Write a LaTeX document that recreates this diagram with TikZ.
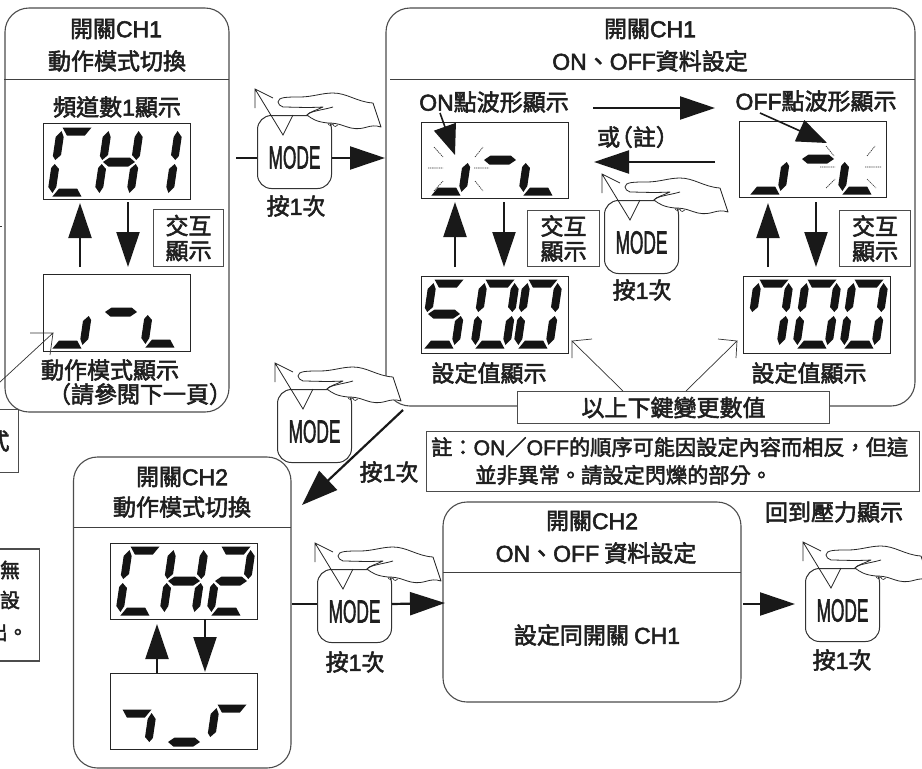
\documentclass[tikz,border=0pt]{standalone}
\usepackage{fontspec}
\setmainfont{Noto Sans CJK TC}[FakeBold=2.4]
\newfontfamily\latf{Liberation Sans}[FakeBold=2.4]
\newfontfamily\modef{Liberation Sans}[FakeBold=2.2]
\newcommand{\T}[1]{{\latf #1}}
\usetikzlibrary{arrows.meta}
\tikzset{
  x=1pt,y=-1pt,
  thinline/.style={line width=0.9pt,draw=black!75},
  panel/.style={line width=1.1pt,draw=black!70,fill=white,rounded corners=24pt},
  framebox/.style={line width=1.1pt,draw=black!70,fill=white},
  lcd/.style={line width=1.3pt,draw=black!85,fill=white},
  lbl/.style={inner sep=0pt,font=\fontsize{23}{23}\selectfont,text=black!88},
  note/.style={lbl,anchor=west,font=\fontsize{21.2}{21.2}\selectfont},
  bigarrow/.style={line width=2.2pt,black!90,-{Triangle[length=35pt,width=23pt]}},
  openarrow/.style={line width=0.7pt,black!80},
  flash/.style={line width=0.7pt,black!80,dash pattern=on 1.3pt off 0.8pt},
  btn/.style={line width=1pt,draw=black!80,fill=white,rounded corners=14pt},
}
% seven-segment pieces, in local coordinates
\newcommand{\sga}{\fill (-14.5,-34.5)--(14.5,-34.5)--(9,-26.5)--(-9,-26.5)--cycle;}
\newcommand{\sgd}{\fill (-14.5,34.5)--(14.5,34.5)--(9,26.5)--(-9,26.5)--cycle;}
\newcommand{\sgg}{\fill (-16,0)--(-10,-4.5)--(10,-4.5)--(16,0)--(10,4.5)--(-10,4.5)--cycle;}
\newcommand{\sgf}{\fill (-20,-25)--(-15,-31)--(-12,-25)--(-12,-7)--(-17,-2)--(-20,-6)--cycle;}
\newcommand{\sgb}{\fill (20,-25)--(15,-31)--(12,-25)--(12,-7)--(17,-2)--(20,-6)--cycle;}
\newcommand{\sge}{\fill (-20,25)--(-15,31)--(-12,25)--(-12,7)--(-17,2)--(-20,6)--cycle;}
\newcommand{\sgc}{\fill (20,25)--(15,31)--(12,25)--(12,7)--(17,2)--(20,6)--cycle;}
% \dgt{cx}{cy}{segments}
\newcommand{\dgt}[3]{\begin{scope}[cm={1,0,-0.147,-1,(#1,#2)},x=1pt,y=1pt,black!92]#3\end{scope}}
% \hand{name}{x}{y}: a MODE key at top-left (x,y) with the hand pressing it
\newcommand{\hand}[3]{%
  \node[btn,minimum width=74pt,minimum height=73pt,anchor=north west,inner sep=0pt] (#1) at (#2,#3) {};
  \node[inner sep=0pt,xscale=.54,transform shape,font=\modef\fontsize{32}{32}\selectfont,text=black!88] (#1t) at ([yshift=-5.5pt]#1.center) {MODE};
  \begin{scope}[shift={(#2,#3)}]
    \draw[line width=.8pt,black!85] (-2,-7)--(-2,-26)--(16,-17) (-2,-26)--(26,20)--(36,0);
    \draw[line width=.8pt,black!85,fill=white,line join=round]
      (21,-13) .. controls (21,-18) and (30,-18) .. (43,-18)
      .. controls (55,-18) and (65,-22) .. (76,-22)
      .. controls (90,-22) and (100,-13) .. (116,-12)
      -- (124,12)
      .. controls (112,8) and (108,16) .. (94,13)
      .. controls (86,11) and (82,8) .. (71,8)
      .. controls (60,7) and (55,4) .. (50,0)
      .. controls (52,-3) and (60,-5) .. (66,-8)
      .. controls (50,-7) and (35,-8) .. (26,-8)
      .. controls (23,-9) and (21,-11) .. (21,-13) -- cycle;
    \draw[line width=.8pt,black!85] (50,0) .. controls (53,-4) and (66,-5) .. (76,-8);
    \draw[line width=.6pt,black!85] (71,8) arc(180:20:2.5) (76,9) arc(180:20:2.5);
  \end{scope}}
\begin{document}
\begin{tikzpicture}
\useasboundingbox (0,0) rectangle (922,769);
\clip (0,0) rectangle (922,769);
\fill[white] (0,0) rectangle (922,769);

% clipped pieces at the left edge
\node[framebox,minimum width=40pt,minimum height=63pt,anchor=east,inner sep=0pt] (lefta) at (19,441) {};
\node[framebox,minimum width=60pt,minimum height=112pt,anchor=east,inner sep=0pt] (leftb) at (40,605) {};
\node[lbl] (t式) at (-2,441) {式};
\node[lbl,font=\fontsize{20}{20}\selectfont] (t無) at (10,570) {無};
\node[lbl,font=\fontsize{20}{20}\selectfont] (t設) at (10,600) {設};
\node[lbl,font=\fontsize{20}{20}\selectfont,anchor=east] (t出) at (28,632) {出。};
\coordinate (tk1) at (0,226); \coordinate (tk2) at (2,226);
\draw[line width=.8pt,black!80] (tk1)--(tk2);

% panels
\draw[panel] (5,8) rectangle (229,412);
\draw[panel] (386,8) rectangle (915,406);
\draw[panel] (73.5,457) rectangle (291,768);
\draw[panel] (443,502) rectangle (741,702);
\draw[thinline] (4,79)--(229,79) (390,79)--(915,79) (74,527)--(291,527) (443,572)--(741,572);

% titles
\node[lbl] (a1) at (116,29) {開關\T{CH1}};
\node[lbl] (a2) at (117,61) {動作模式切換};
\node[lbl] (a3) at (117,107) {頻道數\T{1}顯示};
\node[lbl] (a4) at (110,370) {動作模式顯示};
\node[lbl] (a5) at (140,394) {（請參閱下一頁）};
\node[lbl] (b1) at (650,29) {開關\T{CH1}};
\node[lbl] (b2) at (650,61) {\T{ON}、\T{OFF}資料設定};
\node[lbl] (b3) at (494,102) {\T{ON}點波形顯示};
\node[lbl] (b4) at (816,101) {\T{OFF}點波形顯示};
\node[lbl] (b5) at (638,137) {或\kern-.45em（註）};
\node[lbl] (b6) at (489,373) {設定值顯示};
\node[lbl] (b7) at (809,373) {設定值顯示};
\node[lbl] (c1) at (182,477) {開關\T{CH2}};
\node[lbl] (c2) at (182,507) {動作模式切換};
\node[lbl] (d1) at (592,521) {開關\T{CH2}};
\node[lbl] (d2) at (596,553) {\T{ON}、\T{OFF} 資料設定};
\node[lbl] (d3) at (597,635) {設定同開關 \T{CH1}};
\node[lbl] (d4) at (834,512) {回到壓力顯示};

% LCD frames
\node[lcd,minimum width=147pt,minimum height=76pt,anchor=north west,inner sep=0pt] (ch1) at (43,123) {};
\node[lcd,minimum width=147pt,minimum height=77pt,anchor=north west,inner sep=0pt] (mode1) at (43,274) {};
\node[lcd,minimum width=147pt,minimum height=76pt,anchor=north west,inner sep=0pt] (on) at (421,122) {};
\node[lcd,minimum width=147pt,minimum height=76pt,anchor=north west,inner sep=0pt] (off) at (739,121) {};
\node[lcd,minimum width=147pt,minimum height=77pt,anchor=north west,inner sep=0pt] (v500) at (421,276) {};
\node[lcd,minimum width=147pt,minimum height=77pt,anchor=north west,inner sep=0pt] (v700) at (743,276) {};
\node[lcd,minimum width=147pt,minimum height=76pt,anchor=north west,inner sep=0pt] (ch2) at (110,543) {};
\node[lcd,minimum width=147pt,minimum height=76pt,anchor=north west,inner sep=0pt] (mode2) at (110,673) {};

% digits
\dgt{72}{162}{\sga\sgf\sge\sgd}
\dgt{119}{162}{\sgf\sge\sgb\sgc\sgg}
\dgt{158}{162}{\sgb\sgc}
\dgt{72}{314}{\sgc\sgd}
\dgt{121}{312}{\sgg}
\dgt{165}{313}{\sge\sgd}
\dgt{451}{161}{\sgc\sgd}
\dgt{500}{160}{\sgg}
\dgt{543}{161}{\sge\sgd}
\dgt{770}{160}{\sgc\sgd}
\dgt{818}{159}{\sgg}
\dgt{862}{160}{\sge\sgd}
\dgt{444}{314}{\sga\sgf\sgg\sgc\sgd}
\dgt{495}{314}{\sga\sgb\sgc\sgd\sge\sgf}
\dgt{538}{314}{\sga\sgb\sgc\sgd\sge\sgf}
\dgt{769}{314}{\sga\sgb\sgc\sgf}
\dgt{817}{314}{\sga\sgb\sgc\sgd\sge\sgf}
\dgt{864}{314}{\sga\sgb\sgc\sgd\sge\sgf}
\dgt{140}{581}{\sga\sgf\sge\sgd}
\dgt{184}{581}{\sgf\sge\sgb\sgc\sgg}
\dgt{231}{581}{\sga\sgb\sgg\sge\sgd}
\dgt{132}{744}{\sga\sgb}
\dgt{184}{742}{\sgg}
\dgt{227}{739}{\sga\sgf}

% flashing marks
\draw[flash] (434,147)--(443,157) (475,157)--(483,147) (428,168)--(443,168) (474,168)--(489,168) (434,191)--(443,181) (475,181)--(483,191);
\draw[flash] (826,146)--(834,156) (867,156)--(875,146) (820,167)--(835,167) (865,167)--(881,167) (826,188)--(835,179) (867,179)--(876,188);

% "交互顯示" boxes
\node[framebox,minimum width=70pt,minimum height=57pt,anchor=north west,inner sep=0pt,align=center,font=\fontsize{23}{25}\selectfont,text=black!88] (x1) at (153,209) {交互\\顯示};
\node[framebox,minimum width=72pt,minimum height=56pt,anchor=north west,inner sep=0pt,align=center,font=\fontsize{23}{25}\selectfont,text=black!88] (x2) at (527,210) {交互\\顯示};
\node[framebox,minimum width=71pt,minimum height=56pt,anchor=north west,inner sep=0pt,align=center,font=\fontsize{23}{25}\selectfont,text=black!88] (x3) at (839,210) {交互\\顯示};

% vertical exchange arrows
\coordinate (u1a) at (80,267); \coordinate (u1b) at (80,203);
\coordinate (d1a) at (128,202); \coordinate (d1b) at (128,267);
\coordinate (u2a) at (455,267); \coordinate (u2b) at (455,202);
\coordinate (d2a) at (504,202); \coordinate (d2b) at (504,267);
\coordinate (u3a) at (768,267); \coordinate (u3b) at (768,203);
\coordinate (d3a) at (816,202); \coordinate (d3b) at (816,267);
\coordinate (u4a) at (157,673); \coordinate (u4b) at (157,624);
\coordinate (d4a) at (205,619); \coordinate (d4b) at (205,672);
\foreach \p/\q in {u1a/u1b,d1a/d1b,u2a/u2b,d2a/d2b,u3a/u3b,d3a/d3b,u4a/u4b,d4a/d4b}
  \draw[bigarrow] (\p)--(\q);

% on/off arrows
\coordinate (r1) at (593,108); \coordinate (r2) at (715,108);
\coordinate (l1) at (715,162); \coordinate (l2) at (594,162);
\draw[bigarrow] (r1)--(r2);
\draw[bigarrow] (l1)--(l2);
\coordinate (pa) at (440,113); \coordinate (pb) at (455,155);
\coordinate (qa) at (760,113); \coordinate (qb) at (827,143);
\draw[line width=1.6pt,black!90,-{Triangle[length=30pt,width=23pt]}] (pa)--(pb);
\draw[line width=1.6pt,black!90,-{Triangle[length=30pt,width=23pt]}] (qa)--(qb);

% MODE keys
\hand{k1}{257}{115}
\hand{k2}{604}{200}
\hand{k3}{277}{389}
\hand{k4}{317}{569}
\hand{k5}{805}{568}

% horizontal connectors
\coordinate (h1) at (236,158); \coordinate (h2) at (385,158);
\draw[line width=1.6pt,black!90] (h1)--(k1.west |- h1);
\draw[bigarrow] (k1.east |- h1)--(h2);
\coordinate (h3) at (292,604); \coordinate (h4) at (445,603);
\draw[line width=1.6pt,black!90] (h3)--(k4.west |- h3);
\draw[bigarrow] (k4.east |- h3)--(h4);
\coordinate (h5) at (743,604); \coordinate (h6) at (795,604);
\draw[bigarrow] (h5)--(h6);

% diagonal arrow
\coordinate (g1) at (403,410); \coordinate (g2) at (302,505);
\draw[bigarrow,-{Triangle[length=36pt,width=26pt]}] (g1)--(g2);

% press labels
\node[lbl] (p1) at (296,206) {按\T{1}次};
\node[lbl] (p2) at (642,290) {按\T{1}次};
\node[lbl] (p3) at (389,472) {按\T{1}次};
\node[lbl] (p4) at (355,662) {按\T{1}次};
\node[lbl] (p5) at (842,660) {按\T{1}次};

% label box with open arrows
\node[framebox,minimum width=312pt,minimum height=32pt,inner sep=0pt,anchor=north west,text=black!88,font=\fontsize{23}{23}\selectfont] (lab) at (517,391) {以上下鍵變更數值};
\coordinate (oa) at (623,391); \coordinate (ob) at (572,341);
\coordinate (oc) at (686,391); \coordinate (od) at (737,341);
\draw[openarrow] (oa)--(ob)--(572,358) (ob)--(592,339);
\draw[openarrow] (oc)--(od)--(736,358) (od)--(718,339);
\coordinate (oe) at (0,382); \coordinate (of) at (53,333);
\draw[openarrow] (oe)--(of)--(50,355) (of)--(30,333);

% note
\node[framebox,minimum width=493pt,minimum height=60pt,inner sep=0pt,anchor=north west] (nb) at (426,431) {};
\node[note] (n1) at (431,447) {註：\T{ON}／\T{OFF}的順序可能因設定內容而相反，但這};
\node[note] (n2) at (475,475) {並非異常。請設定閃爍的部分。};
\end{tikzpicture}
\end{document}
